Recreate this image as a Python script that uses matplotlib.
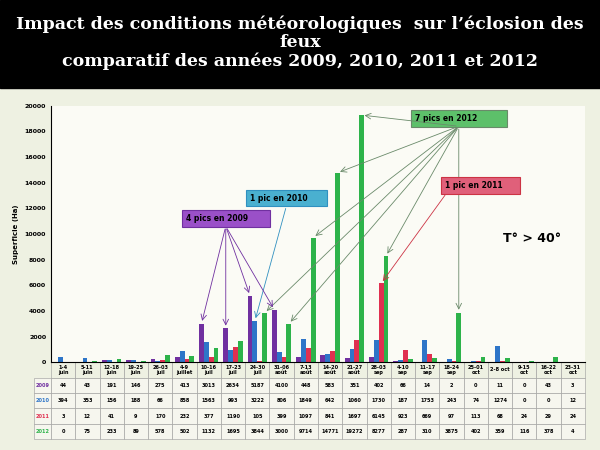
import matplotlib
matplotlib.use("Agg")
import matplotlib.pyplot as plt
import numpy as np

weeks = ["1-4\njuin", "5-11\njuin", "12-18\njuin", "19-25\njuin", "26-03\njuil", "4-9\njuillet",
         "10-16\njuil", "17-23\njuil", "24-30\njuil", "31-06\naoût", "7-13\naoût", "14-20\naoût",
         "21-27\naoût", "28-03\nsep", "4-10\nsep", "11-17\nsep", "18-24\nsep", "25-01\noct",
         "2-8 oct", "9-15\noct", "16-22\noct", "23-31\noct"]
y2009 = [44, 43, 191, 146, 275, 413, 3013, 2634, 5187, 4100, 448, 583, 351, 402, 66, 14, 2, 0, 11, 0, 43, 3]
y2010 = [394, 353, 156, 188, 66, 858, 1563, 993, 3222, 806, 1849, 642, 1060, 1730, 187, 1753, 243, 74, 1274, 0, 0, 12]
y2011 = [3, 12, 41, 9, 170, 232, 377, 1190, 105, 399, 1097, 841, 1697, 6145, 923, 669, 97, 113, 68, 24, 29, 24]
y2012 = [0, 75, 233, 89, 578, 502, 1132, 1695, 3844, 3000, 9714, 14771, 19272, 8277, 287, 310, 3875, 402, 359, 116, 378, 4]
years = ["2009", "2010", "2011", "2012"]
colors = ["#7030a0", "#2e75c8", "#e03050", "#2db34a"]

bg = "#eef1e2"
fig = plt.figure(figsize=(6, 4.5), dpi=100, facecolor=bg)
# title band
fig.patches.append(plt.Rectangle((0, 0.805), 1, 0.195, transform=fig.transFigure, color="black"))
fig.text(0.5, 0.905, "Impact des conditions météorologiques  sur l’éclosion des\nfeux\ncomparatif des années 2009, 2010, 2011 et 2012",
         ha="center", va="center", color="white", fontsize=12.5, fontweight="bold",
         family="DejaVu Serif", linespacing=1.1)

ax = fig.add_axes([0.085, 0.195, 0.89, 0.57])
ax.set_facecolor("#fbfbf5")
x = np.arange(len(weeks))
w = 0.2
series = [y2009, y2010, y2011, y2012]
for i, (s, c) in enumerate(zip(series, colors)):
    ax.bar(x + (i - 1.5) * w, s, w, color=c, edgecolor="none")
ax.set_xlim(-0.5, len(weeks) - 0.5)
ax.set_ylim(0, 20000)
ax.set_yticks(range(0, 20001, 2000))
ax.tick_params(axis="y", labelsize=4.5, length=0)
for t in ax.get_yticklabels():
    t.set_fontweight("bold")
ax.set_xticks([])
ax.set_ylabel("Superficie (Ha)", fontsize=5, fontweight="bold")
for sp in ["top", "right"]:
    ax.spines[sp].set_visible(False)

cell = [[str(v) for v in s] for s in series]
tab = ax.table(cellText=cell, rowLabels=years, colLabels=weeks, rowColours=None,
               cellLoc="center", bbox=[0, -0.3, 1, 0.3])
tab.auto_set_font_size(False)
tab.set_fontsize(3.6)
for (r, c), ce in tab.get_celld().items():
    ce.set_linewidth(0.4)
    ce.set_edgecolor("#999999")
    ce.get_text().set_fontweight("bold")
    if r == 0:
        ce.set_facecolor(bg)
    else:
        ce.set_facecolor("#f6f6ee")
    if c == -1:
        ce.get_text().set_color("black")
        ce.get_text().set_text("■" + years[r - 1])
        ce.get_text().set_color(colors[r - 1])
for (r, c), ce in tab.get_celld().items():
    if c == -1:
        ce.get_text().set_text(years[r - 1])

def note(text, xy, fc, ec, targets, offs, fs=5.5):
    ax.text(xy[0], xy[1], text, ha="center", va="center", fontsize=fs, fontweight="bold",
            bbox=dict(boxstyle="square,pad=0.5", fc=fc, ec=ec, lw=0.8))
    for t in targets:
        ax.annotate("", xy=t, xytext=(xy[0] + offs[0], xy[1] + offs[1]),
                    arrowprops=dict(arrowstyle="->", color=ec, lw=0.6))

note("7 pics en 2012          ", (16.3, 19000), "#5dc06a", "#6a8a6a",
     [(8 + 1.5 * w, y2012[8]), (9 + 1.5 * w, y2012[9]), (10 + 1.5 * w, y2012[10]),
      (11 + 1.5 * w, y2012[11]), (12 + 1.5 * w, y2012[12]), (13 + 1.5 * w, y2012[13]),
      (16 + 1.5 * w, y2012[16])], (0, -600))
note("1 pic en 2011     ", (17.2, 13800), "#e0607a", "#cc3344",
     [(13 + 0.5 * w, y2011[13])], (-1.4, -600))
note("1 pic en 2010      ", (9.2, 12800), "#4ab0d0", "#3090c0",
     [(8 - 0.5 * w, y2010[8])], (0, -600))
note("4 pics en 2009       ", (6.7, 11200), "#9a50c8", "#7030a0",
     [(6 - 1.5 * w, y2009[6]), (7 - 1.5 * w, y2009[7]), (8 - 1.5 * w, y2009[8]),
      (9 - 1.5 * w, y2009[9])], (0, -600))
ax.text(19.3, 9650, "T° > 40°", fontsize=9, fontweight="bold", ha="center", va="center")

fig.savefig("out.png", dpi=100, facecolor=bg)
